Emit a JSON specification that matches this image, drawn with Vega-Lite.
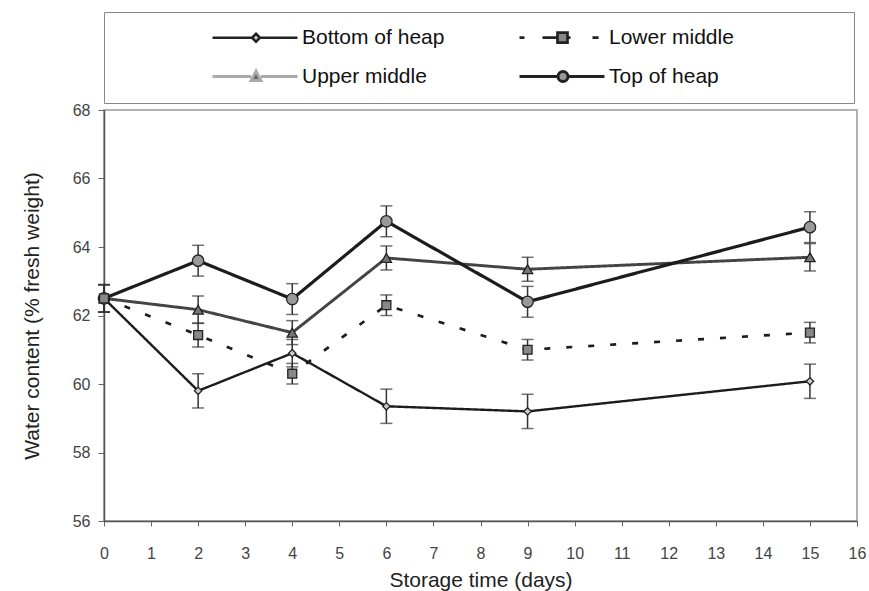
{
  "$schema": "https://vega.github.io/schema/vega-lite/v6.json",
  "width": 753,
  "height": 411,
  "autosize": "none",
  "padding": {"left": 104, "top": 110, "right": 12, "bottom": 70},
  "background": "white",
  "config": {
    "font": "Liberation Sans",
    "view": {"stroke": "#999", "strokeWidth": 1.5},
    "axis": {"grid": false, "domainColor": "#555", "domainWidth": 1.5, "tickColor": "#666", "labelColor": "#444", "labelFont": "Liberation Sans", "labelFontSize": 16, "titleFont": "Liberation Sans", "titleFontWeight": "normal", "titleColor": "#222", "titleFontSize": 21}
  },
  "data": {
    "values": [
      {"series": "Bottom of heap", "day": 0, "value": 62.5, "err": 0.4},
      {"series": "Bottom of heap", "day": 2, "value": 59.8, "err": 0.5},
      {"series": "Bottom of heap", "day": 4, "value": 60.9, "err": 0.4},
      {"series": "Bottom of heap", "day": 6, "value": 59.35, "err": 0.5},
      {"series": "Bottom of heap", "day": 9, "value": 59.2, "err": 0.5},
      {"series": "Bottom of heap", "day": 15, "value": 60.08, "err": 0.5},
      {"series": "Upper middle", "day": 0, "value": 62.5, "err": 0.4},
      {"series": "Upper middle", "day": 2, "value": 62.17, "err": 0.4},
      {"series": "Upper middle", "day": 4, "value": 61.5, "err": 0.35},
      {"series": "Upper middle", "day": 6, "value": 63.68, "err": 0.35},
      {"series": "Upper middle", "day": 9, "value": 63.35, "err": 0.35},
      {"series": "Upper middle", "day": 15, "value": 63.7, "err": 0.4},
      {"series": "Top of heap", "day": 0, "value": 62.5, "err": 0.4},
      {"series": "Top of heap", "day": 2, "value": 63.6, "err": 0.45},
      {"series": "Top of heap", "day": 4, "value": 62.48, "err": 0.45},
      {"series": "Top of heap", "day": 6, "value": 64.75, "err": 0.45},
      {"series": "Top of heap", "day": 9, "value": 62.4, "err": 0.45},
      {"series": "Top of heap", "day": 15, "value": 64.58, "err": 0.45},
      {"series": "Lower middle", "day": 0, "value": 62.5, "err": 0.4},
      {"series": "Lower middle", "day": 2, "value": 61.43, "err": 0.35},
      {"series": "Lower middle", "day": 4, "value": 60.3, "err": 0.3},
      {"series": "Lower middle", "day": 6, "value": 62.3, "err": 0.3},
      {"series": "Lower middle", "day": 9, "value": 61.0, "err": 0.3},
      {"series": "Lower middle", "day": 15, "value": 61.5, "err": 0.3}
    ]
  },
  "encoding": {
    "x": {"field": "day", "type": "quantitative", "title": "Storage time (days)",
      "scale": {"domain": [0, 16], "nice": false},
      "axis": {"values": [0,1,2,3,4,5,6,7,8,9,10,11,12,13,14,15,16], "tickSize": 5, "labelPadding": 19, "titlePadding": 8, "labelFlush": false}},
    "y": {"field": "value", "type": "quantitative", "title": "Water content (% fresh weight)",
      "scale": {"domain": [56, 68], "nice": false, "zero": false},
      "axis": {"values": [56,58,60,62,64,66,68], "tickSize": 6, "labelPadding": 8, "titlePadding": 30}}
  },
  "resolve": {"scale": {"shape": "independent", "fill": "independent", "stroke": "independent", "strokeWidth": "independent", "color": "independent", "size": "independent", "strokeDash": "independent"}},
  "layer": [
    {
      "mark": {"type": "line", "strokeCap": "butt", "strokeJoin": "miter"},
      "encoding": {
        "color": {"field": "series", "type": "nominal",
          "scale": {"domain": ["Bottom of heap", "Lower middle", "Upper middle", "Top of heap"], "range": ["#1c1c1c", "#1c1c1c", "#444444", "#1c1c1c"]}, "legend": null},
        "strokeDash": {"field": "series", "type": "nominal",
          "scale": {"domain": ["Bottom of heap", "Lower middle", "Upper middle", "Top of heap"], "range": [[1, 0], [6, 16], [1, 0], [1, 0]]}, "legend": null},
        "strokeWidth": {"field": "series", "type": "nominal",
          "scale": {"domain": ["Bottom of heap", "Lower middle", "Upper middle", "Top of heap"], "range": [2.4, 3.2, 1.4, 3]}, "legend": null}
      }
    },
    {
      "mark": {"type": "errorbar", "ticks": {"size": 12, "color": "#333"}, "rule": {"color": "#333"}, "thickness": 1.5},
      "encoding": {
        "yError": {"field": "err"},
        "detail": {"field": "series", "type": "nominal"}
      }
    },
    {
      "mark": {"type": "point", "filled": false, "opacity": 1, "stroke": "#222", "strokeWidth": 1.3},
      "encoding": {
        "shape": {"field": "series", "type": "nominal",
          "scale": {"domain": ["Bottom of heap", "Lower middle", "Upper middle", "Top of heap"], "range": ["diamond", "square", "triangle-up", "circle"]}, "legend": null},
        "fill": {"field": "series", "type": "nominal",
          "scale": {"domain": ["Bottom of heap", "Lower middle", "Upper middle", "Top of heap"], "range": ["#cccccc", "#888888", "#777777", "#999999"]}, "legend": null},
        "size": {"field": "series", "type": "nominal",
          "scale": {"domain": ["Bottom of heap", "Lower middle", "Upper middle", "Top of heap"], "range": [55, 130, 70, 120]}, "legend": null}
      }
    },
    {
      "mark": {"type": "point", "filled": false, "opacity": 0},
      "encoding": {
        "shape": {"field": "series", "type": "nominal",
          "scale": {"domain": ["Bottom of heap", "Lower middle", "Upper middle", "Top of heap"],
            "range": ["M0,0H7.9M9.5,0H17M8.7,-0.8L9.5,0L8.7,0.8L7.9,0Z", "M0,0H1M4.6,0H7.6M9.6,0H10.2M14.6,0H15.8M7.6,-1H9.6V1H7.6ZM62.6,0", "M0,0H7.7M9.7,0H17M8.7,-1.1L9.7,0.8L7.7,0.8Z", "M0,0H7.7M9.7,0H17M7.7,0A1,1 0 1,1 9.7,0A1,1 0 1,1 7.7,0ZM62.6,0"]},
          "legend": {
            "orient": "none", "legendX": 0, "legendY": -98, "columns": 2, "direction": "horizontal",
            "title": " ", "titleOrient": "left", "titlePadding": 83, "titleOpacity": 0,
            "padding": 15, "strokeColor": "#888", "fillColor": "white",
            "columnPadding": 64, "rowPadding": 17, "labelFontSize": 21, "labelColor": "#111", "labelFont": "Liberation Sans",
            "labelLimit": 400, "symbolSize": 100, "labelOffset": 79, "symbolOffset": 0, "symbolOpacity": 1
          }},
        "fill": {"field": "series", "type": "nominal",
          "scale": {"domain": ["Bottom of heap", "Lower middle", "Upper middle", "Top of heap"], "range": ["#cccccc", "#888888", "#666666", "#999999"]}, "legend": {}},
        "stroke": {"field": "series", "type": "nominal",
          "scale": {"domain": ["Bottom of heap", "Lower middle", "Upper middle", "Top of heap"], "range": ["#222222", "#222222", "#aaaaaa", "#222222"]}, "legend": {}},
        "strokeWidth": {"field": "series", "type": "nominal",
          "scale": {"domain": ["Bottom of heap", "Lower middle", "Upper middle", "Top of heap"], "range": [2.5, 3, 2.5, 2.5]}, "legend": {}}
      }
    }
  ]
}
